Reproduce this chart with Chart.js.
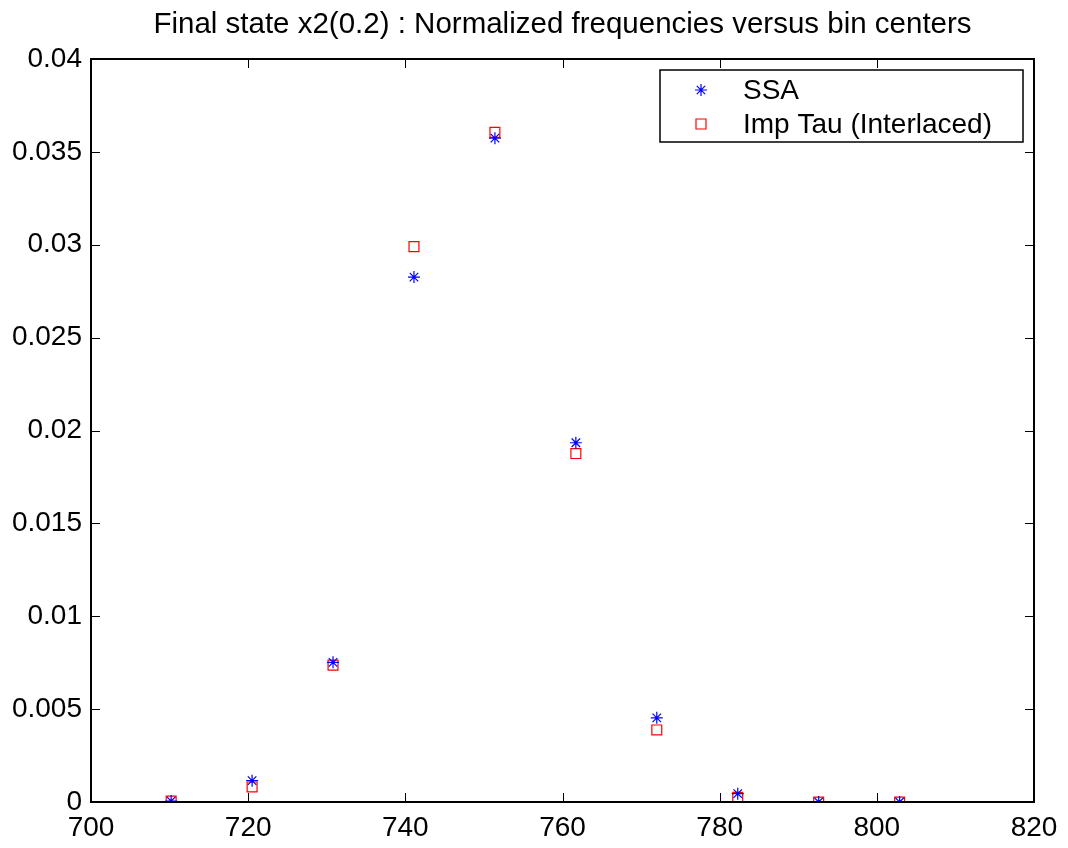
<!DOCTYPE html>
<html>
<head>
<meta charset="utf-8">
<script src="https://cdn.jsdelivr.net/npm/chart.js@4/dist/chart.umd.min.js"></script>
<style>
  html, body { margin: 0; padding: 0; background: #fff; }
  #wrap { width: 1068px; height: 848px; }
</style>
</head>
<body>
<div id="wrap"><canvas id="binChart" width="1068" height="848"></canvas></div>
<script>
const binCenters = [710.2, 720.5, 730.8, 741.1, 751.4, 761.7, 772.0, 782.3, 792.6, 802.9];
const ssaFreq    = [0.00005, 0.00115, 0.00752, 0.02826, 0.03574, 0.01934, 0.00453, 0.00045, 0.0, 0.0];
const impTauFreq = [0.00005, 0.00081, 0.00737, 0.0299, 0.03605, 0.01876, 0.00388, 0.00025, 0.0, 0.0];
const xTicks = [700, 720, 740, 760, 780, 800, 820];
const yTicks = [0, 0.005, 0.01, 0.015, 0.02, 0.025, 0.03, 0.035, 0.04];
const titleText = 'Final state x2(0.2) : Normalized frequencies versus bin centers';

const FONT = '"Liberation Sans", Arial, Helvetica, sans-serif';

function toPoints(xs, ys) {
    return xs.map(function(x, i) { return {x: x, y: ys[i]}; });
}

// title centred over the axes, box, inward ticks on all four sides, boxed legend
const matlabAxes = {
    id: 'matlabAxes',
    afterDraw: function(chart) {
        const ctx = chart.ctx;
        const a = chart.chartArea;
        const xs = chart.scales.x, ys = chart.scales.y;
        const tl = 9;
        ctx.save();

        ctx.fillStyle = '#000';
        ctx.font = '29.5px ' + FONT;
        ctx.textAlign = 'center';
        ctx.textBaseline = 'middle';
        ctx.fillText(titleText, (a.left + a.right) / 2, 25);

        ctx.strokeStyle = '#000';
        ctx.lineWidth = 1;
        ctx.beginPath();
        xTicks.forEach(function(v) {
            const px = Math.round(xs.getPixelForValue(v)) + 0.5;
            ctx.moveTo(px, a.bottom); ctx.lineTo(px, a.bottom - tl);
            ctx.moveTo(px, a.top); ctx.lineTo(px, a.top + tl);
        });
        yTicks.forEach(function(v) {
            const py = Math.round(ys.getPixelForValue(v)) + 0.5;
            ctx.moveTo(a.left, py); ctx.lineTo(a.left + tl, py);
            ctx.moveTo(a.right, py); ctx.lineTo(a.right - tl, py);
        });
        ctx.stroke();
        ctx.lineWidth = 2;
        ctx.strokeRect(a.left, a.top, a.right - a.left, a.bottom - a.top);

        // legend
        const lx = 660, ly = 70, lw = 363, lh = 72;
        ctx.fillStyle = '#fff';
        ctx.fillRect(lx, ly, lw, lh);
        ctx.lineWidth = 1.5;
        ctx.strokeStyle = '#000';
        ctx.strokeRect(lx, ly, lw, lh);
        const ds = chart.data.datasets;
        const rows = [ly + 20, ly + 54];
        ds.forEach(function(d, i) {
            const cx = 701, cy = rows[i];
            ctx.strokeStyle = d.borderColor;
            ctx.lineWidth = 1.2;
            ctx.beginPath();
            if (d.pointStyle === 'star') {
                const r = 6;
                ctx.moveTo(cx - r, cy); ctx.lineTo(cx + r, cy);
                ctx.moveTo(cx, cy - r); ctx.lineTo(cx, cy + r);
                const k = r * 0.7;
                ctx.moveTo(cx - k, cy - k); ctx.lineTo(cx + k, cy + k);
                ctx.moveTo(cx - k, cy + k); ctx.lineTo(cx + k, cy - k);
            } else {
                ctx.rect(cx - 5, cy - 5, 10, 10);
            }
            ctx.stroke();
            ctx.fillStyle = '#000';
            ctx.font = '28px ' + FONT;
            ctx.textBaseline = 'middle';
            ctx.textAlign = 'left';
            ctx.fillText(d.label, 743, cy + 1);
        });
        ctx.restore();
    }
};

const config = {
    type: 'scatter',
    data: {
        datasets: [{
            label: 'SSA',
            data: toPoints(binCenters, ssaFreq),
            pointStyle: 'star',
            borderColor: '#0000ff',
            backgroundColor: '#0000ff',
            pointRadius: 6,
            pointBorderWidth: 1.2
        },
        {
            label: 'Imp Tau (Interlaced)',
            data: toPoints(binCenters, impTauFreq),
            pointStyle: 'rect',
            borderColor: '#ff0000',
            backgroundColor: 'rgba(0,0,0,0)',
            pointRadius: 7,
            pointBorderWidth: 1.2
        }]
    },
    options: {
        responsive: false,
        animation: false,
        events: [],
        layout: { padding: { left: 0, right: 34, top: 59, bottom: 0 } },
        plugins: {
            legend: { display: false },
            tooltip: { enabled: false },
            title: { display: false }
        },
        scales: {
            x: {
                type: 'linear',
                min: 700,
                max: 820,
                afterBuildTicks: function(s) { s.ticks = xTicks.map(function(v) { return {value: v}; }); },
                afterFit: function(s) { s.height = 46; },
                grid: { display: false, drawTicks: false },
                border: { display: false },
                ticks: {
                    color: '#000',
                    padding: 9,
                    maxRotation: 0,
                    font: { family: FONT, size: 28 }
                }
            },
            y: {
                type: 'linear',
                min: 0,
                max: 0.04,
                afterBuildTicks: function(s) { s.ticks = yTicks.map(function(v) { return {value: v}; }); },
                afterFit: function(s) { s.width = 91; },
                grid: { display: false, drawTicks: false },
                border: { display: false },
                ticks: {
                    color: '#000',
                    padding: 9,
                    font: { family: FONT, size: 28 },
                    callback: function(v) { return String(+v.toFixed(3)); }
                }
            }
        }
    },
    plugins: [matlabAxes]
};

new Chart(document.getElementById('binChart'), config);
</script>
</body>
</html>
